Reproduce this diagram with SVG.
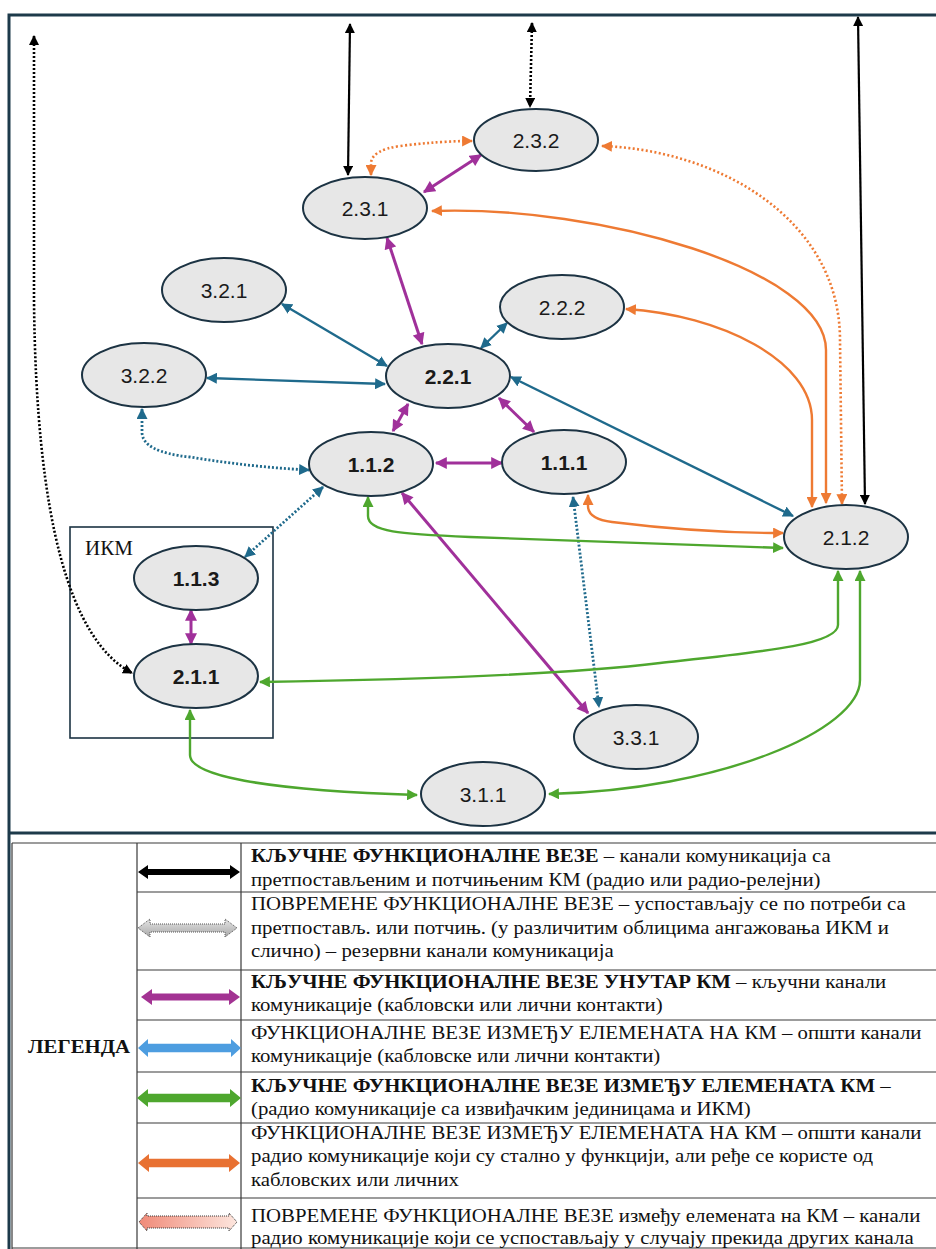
<svg xmlns="http://www.w3.org/2000/svg" width="936" height="1249" viewBox="0 0 936 1249">
  <style>
    .node ellipse { fill: #e7e7e7; stroke: #1c3343; stroke-width: 2; }
    .node text { font-family: "Liberation Sans", Arial, sans-serif; font-size: 21px; fill: #1a1a1a; text-anchor: middle; }
    .node text.b { font-weight: bold; }
    .frame { fill: none; stroke: #1d3a4a; stroke-width: 3; }
    .ikm { fill: none; stroke: #1c3343; stroke-width: 1.6; }
    .c { fill: none; }
    .blk { stroke: #000; stroke-width: 2.2; }
    .blk-d { stroke: #000; stroke-width: 2.6; stroke-dasharray: 2 2; }
    .org { stroke: #ee7a33; stroke-width: 2.4; }
    .org-d { stroke: #ee7a33; stroke-width: 2.6; stroke-dasharray: 2 2.4; }
    .pur { stroke: #a0309a; stroke-width: 3; }
    .teal { stroke: #1f6a8c; stroke-width: 2.4; }
    .teal-d { stroke: #1f6a8c; stroke-width: 2.8; stroke-dasharray: 2 2; }
    .grn { stroke: #4ea72e; stroke-width: 2.4; }
    .grid { stroke: #3a3a3a; stroke-width: 1.2; fill: none; }
    .lg { font-family: "Liberation Serif", "Times New Roman", serif; font-size: 18.5px; fill: #111; }
    .lg .b { font-weight: bold; }
  </style>
  <defs>
    <marker id="ah-blk" viewBox="0 0 10 10" refX="9" refY="5" markerWidth="10" markerHeight="10" markerUnits="userSpaceOnUse" orient="auto-start-reverse"><path d="M0,0 L10,5 L0,10 Z" fill="#000"/></marker>
    <marker id="ah-org" viewBox="0 0 10 10" refX="9" refY="5" markerWidth="11" markerHeight="11" markerUnits="userSpaceOnUse" orient="auto-start-reverse"><path d="M0,0 L10,5 L0,10 Z" fill="#ee7a33"/></marker>
    <marker id="ah-pur" viewBox="0 0 10 10" refX="9" refY="5" markerWidth="13" markerHeight="12" markerUnits="userSpaceOnUse" orient="auto-start-reverse"><path d="M0,0 L10,5 L0,10 Z" fill="#a0309a"/></marker>
    <marker id="ah-teal" viewBox="0 0 10 10" refX="9" refY="5" markerWidth="11" markerHeight="11" markerUnits="userSpaceOnUse" orient="auto-start-reverse"><path d="M0,0 L10,5 L0,10 Z" fill="#1f6a8c"/></marker>
    <marker id="ah-grn" viewBox="0 0 10 10" refX="9" refY="5" markerWidth="11" markerHeight="11" markerUnits="userSpaceOnUse" orient="auto-start-reverse"><path d="M0,0 L10,5 L0,10 Z" fill="#4ea72e"/></marker>
    <linearGradient id="g-gray" x1="0" y1="0" x2="0" y2="1">
      <stop offset="0" stop-color="#e4e4e4"/>
      <stop offset="1" stop-color="#a9a9a9"/>
    </linearGradient>
    <linearGradient id="g-salmon" x1="0" y1="0" x2="1" y2="0">
      <stop offset="0" stop-color="#f08a78"/>
      <stop offset="1" stop-color="#fde6de"/>
    </linearGradient>
  </defs>

  <rect width="936" height="1249" fill="#fff"/>

  <!-- outer frame and divider -->
  <path class="frame" d="M936,15 L9,15 L9,1249 M9,833 L936,833"/>

  <!-- IKM grouping box -->
  <g id="ikm-box">
    <rect class="ikm" x="70" y="527" width="203" height="211"/>
    <text x="85" y="555" font-family="'Liberation Serif', 'Times New Roman', serif" font-size="21" fill="#111">ИКМ</text>
  </g>

  <!-- connectors -->
  <g id="connectors">
    <!-- key links to superior/subordinate -->
    <path class="c blk" d="M350,24 L348,175" marker-start="url(#ah-blk)" marker-end="url(#ah-blk)"/>
    <path class="c blk" d="M858,17 L865,504" marker-start="url(#ah-blk)" marker-end="url(#ah-blk)"/>
    <!-- occasional links -->
    <path class="c blk-d" d="M532,23 L530,107" marker-start="url(#ah-blk)" marker-end="url(#ah-blk)"/>
    <path class="c blk-d" d="M34,36 L34,300 C36,520 70,640 132,673" marker-start="url(#ah-blk)" marker-end="url(#ah-blk)"/>

    <!-- radio links (orange) -->
    <path class="c org" d="M432,211 C600,205 826,270 826,350 L826,503" marker-start="url(#ah-org)" marker-end="url(#ah-org)"/>
    <path class="c org" d="M626,309 C720,315 812,360 812,420 L812,507" marker-start="url(#ah-org)" marker-end="url(#ah-org)"/>
    <path class="c org" d="M588,495 L588,506 Q588,519 612,522 Q700,533 783,533" marker-start="url(#ah-org)" marker-end="url(#ah-org)"/>
    <path class="c org-d" d="M371,175 L371,163 Q372,150 400,146 Q440,141 472,141" marker-start="url(#ah-org)" marker-end="url(#ah-org)"/>
    <path class="c org-d" d="M602,146 C720,150 840,220 840,340 L842,504" marker-start="url(#ah-org)" marker-end="url(#ah-org)"/>

    <!-- key links inside the post (purple) -->
    <path class="c pur" d="M424,192 L481,155" marker-start="url(#ah-pur)" marker-end="url(#ah-pur)"/>
    <path class="c pur" d="M387,238 L422,344" marker-start="url(#ah-pur)" marker-end="url(#ah-pur)"/>
    <path class="c pur" d="M408,404 L393,431" marker-start="url(#ah-pur)" marker-end="url(#ah-pur)"/>
    <path class="c pur" d="M499,398 L534,432" marker-start="url(#ah-pur)" marker-end="url(#ah-pur)"/>
    <path class="c pur" d="M436,463 L502,463" marker-start="url(#ah-pur)" marker-end="url(#ah-pur)"/>
    <path class="c pur" d="M402,493 L588,713" marker-start="url(#ah-pur)" marker-end="url(#ah-pur)"/>
    <path class="c pur" d="M191,610 L191,644" marker-start="url(#ah-pur)" marker-end="url(#ah-pur)"/>

    <!-- general links on the post (teal) -->
    <path class="c teal" d="M282,304 L387,366" marker-start="url(#ah-teal)" marker-end="url(#ah-teal)"/>
    <path class="c teal" d="M207,378 L385,384" marker-start="url(#ah-teal)" marker-end="url(#ah-teal)"/>
    <path class="c teal" d="M507,323 L481,348" marker-start="url(#ah-teal)" marker-end="url(#ah-teal)"/>
    <path class="c teal" d="M511,377 L793,516" marker-start="url(#ah-teal)" marker-end="url(#ah-teal)"/>
    <path class="c teal-d" d="M142,409 L142,432 Q142,452 190,457 Q250,467 309,470" marker-start="url(#ah-teal)" marker-end="url(#ah-teal)"/>
    <path class="c teal-d" d="M323,487 L245,557" marker-start="url(#ah-teal)" marker-end="url(#ah-teal)"/>
    <path class="c teal-d" d="M573,497 L599,707" marker-start="url(#ah-teal)" marker-end="url(#ah-teal)"/>

    <!-- key links between elements (green) -->
    <path class="c grn" d="M368,497 L368,516 C368,532 400,534 470,537 L783,548" marker-start="url(#ah-grn)" marker-end="url(#ah-grn)"/>
    <path class="c grn" d="M838,571 L838,625 C838,645 760,652 660,663 C560,675 400,680 260,682" marker-start="url(#ah-grn)" marker-end="url(#ah-grn)"/>
    <path class="c grn" d="M860,571 L860,680 C860,730 720,790 549,794" marker-start="url(#ah-grn)" marker-end="url(#ah-grn)"/>
    <path class="c grn" d="M190,710 L190,755 C190,775 260,790 417,795" marker-start="url(#ah-grn)" marker-end="url(#ah-grn)"/>
  </g>

  <!-- nodes -->
  <g id="n232" class="node"><ellipse cx="536" cy="140" rx="62" ry="31"/><text x="536" y="147.5">2.3.2</text></g>
  <g id="n231" class="node"><ellipse cx="365" cy="208" rx="62" ry="31"/><text x="365" y="215.5">2.3.1</text></g>
  <g id="n321" class="node"><ellipse cx="224" cy="290" rx="62" ry="32"/><text x="224" y="297.5">3.2.1</text></g>
  <g id="n222" class="node"><ellipse cx="562" cy="307" rx="62" ry="32"/><text x="562" y="314.5">2.2.2</text></g>
  <g id="n322" class="node"><ellipse cx="144" cy="375" rx="62" ry="32"/><text x="144" y="382.5">3.2.2</text></g>
  <g id="n221" class="node"><ellipse cx="448" cy="376" rx="62" ry="32"/><text class="b" x="448" y="383.5">2.2.1</text></g>
  <g id="n112" class="node"><ellipse cx="371" cy="464" rx="62" ry="32"/><text class="b" x="371" y="471.5">1.1.2</text></g>
  <g id="n111" class="node"><ellipse cx="564" cy="462" rx="62" ry="32"/><text class="b" x="564" y="469.5">1.1.1</text></g>
  <g id="n212" class="node"><ellipse cx="846" cy="537" rx="62" ry="32"/><text x="846" y="544.5">2.1.2</text></g>
  <g id="n113" class="node"><ellipse cx="196" cy="578" rx="62" ry="32"/><text class="b" x="196" y="585.5">1.1.3</text></g>
  <g id="n211" class="node"><ellipse cx="196" cy="676" rx="62" ry="32"/><text class="b" x="196" y="683.5">2.1.1</text></g>
  <g id="n331" class="node"><ellipse cx="636" cy="737" rx="62" ry="32"/><text x="636" y="744.5">3.3.1</text></g>
  <g id="n311" class="node"><ellipse cx="483" cy="794" rx="62" ry="32"/><text x="483" y="801.5">3.1.1</text></g>

  <!-- legend table -->
  <g id="legend">
    <path class="grid" d="M12,843 L936,843 M12,1248 L936,1248 M12,843 L12,1249 M137,843 L137,1249 M241,843 L241,1249
      M137,892 L936,892 M137,970 L936,970 M137,1020 L936,1020 M137,1072 L936,1072 M137,1123 L936,1123 M137,1198 L936,1198"/>
    <g transform="translate(130 0) scale(1.124 1)">
      <text class="lg" x="0" y="1053" text-anchor="end"><tspan class="b">ЛЕГЕНДА</tspan></text>
    </g>

    <!-- legend swatches -->
    <polygon points="138,872 148,865 148,869 230,869 230,865 240,872 230,879 230,875 148,875 148,879" fill="#000"/>
    <polygon points="138,928 150,919 150,924 225,924 225,919 237,928 225,937 225,932 150,932 150,937" fill="url(#g-gray)" stroke="#555" stroke-width="1" stroke-dasharray="1 1"/>
    <polygon points="141,997 152,989 152,993.5 229,993.5 229,989 240,997 229,1005 229,1000.5 152,1000.5 152,1005" fill="#a33393"/>
    <polygon points="138,1048 148,1039 148,1043.7 231,1043.7 231,1039 241,1048 231,1057 231,1052.3 148,1052.3 148,1057" fill="#4d9de0"/>
    <polygon points="137,1098 148,1089 148,1093.7 230,1093.7 230,1089 241,1098 230,1107 230,1102.3 148,1102.3 148,1107" fill="#4ea72e"/>
    <polygon points="138,1163 149,1154 149,1158.7 229,1158.7 229,1154 240,1163 229,1172 229,1167.3 149,1167.3 149,1172" fill="#e87132"/>
    <polygon points="139,1222 147,1213 147,1216 229,1216 229,1213 237,1222 229,1231 229,1228 147,1228 147,1231" fill="url(#g-salmon)" stroke="#333" stroke-width="1" stroke-dasharray="1 1"/>

    <!-- legend descriptions (set slightly wide) -->
    <g transform="translate(251 0) scale(1.124 1)">
      <text class="lg" x="0" y="862"><tspan class="b">КЉУЧНЕ ФУНКЦИОНАЛНЕ ВЕЗЕ</tspan> – канали комуникација са</text>
      <text class="lg" x="0" y="886">претпостављеним и потчињеним КМ (радио или радио-релејни)</text>
      <text class="lg" x="0" y="910">ПОВРЕМЕНЕ ФУНКЦИОНАЛНЕ ВЕЗЕ – успостављају се по потреби са</text>
      <text class="lg" x="0" y="934">претпостављ. или потчињ. (у различитим облицима ангажовања ИКМ и</text>
      <text class="lg" x="0" y="957">слично) – резервни канали комуникација</text>
      <text class="lg" x="0" y="988"><tspan class="b">КЉУЧНЕ ФУНКЦИОНАЛНЕ ВЕЗЕ УНУТАР КМ</tspan> – кључни канали</text>
      <text class="lg" x="0" y="1011">комуникације (кабловски или лични контакти)</text>
      <text class="lg" x="0" y="1039">ФУНКЦИОНАЛНЕ ВЕЗЕ ИЗМЕЂУ ЕЛЕМЕНАТА НА КМ – општи канали</text>
      <text class="lg" x="0" y="1062">комуникације (кабловске или лични контакти)</text>
      <text class="lg" x="0" y="1092"><tspan class="b">КЉУЧНЕ ФУНКЦИОНАЛНЕ ВЕЗЕ ИЗМЕЂУ ЕЛЕМЕНАТА КМ</tspan> –</text>
      <text class="lg" x="0" y="1115">(радио комуникације са извиђачким јединицама и ИКМ)</text>
      <text class="lg" x="0" y="1139">ФУНКЦИОНАЛНЕ ВЕЗЕ ИЗМЕЂУ ЕЛЕМЕНАТА НА КМ – општи канали</text>
      <text class="lg" x="0" y="1162">радио комуникације који су стално у функцији, али ређе се користе од</text>
      <text class="lg" x="0" y="1186">кабловских или личних</text>
      <text class="lg" x="0" y="1222">ПОВРЕМЕНЕ ФУНКЦИОНАЛНЕ ВЕЗЕ између елемената на КМ – канали</text>
      <text class="lg" x="0" y="1244">радио комуникације који се успостављају у случају прекида других канала</text>
    </g>
  </g>
</svg>
